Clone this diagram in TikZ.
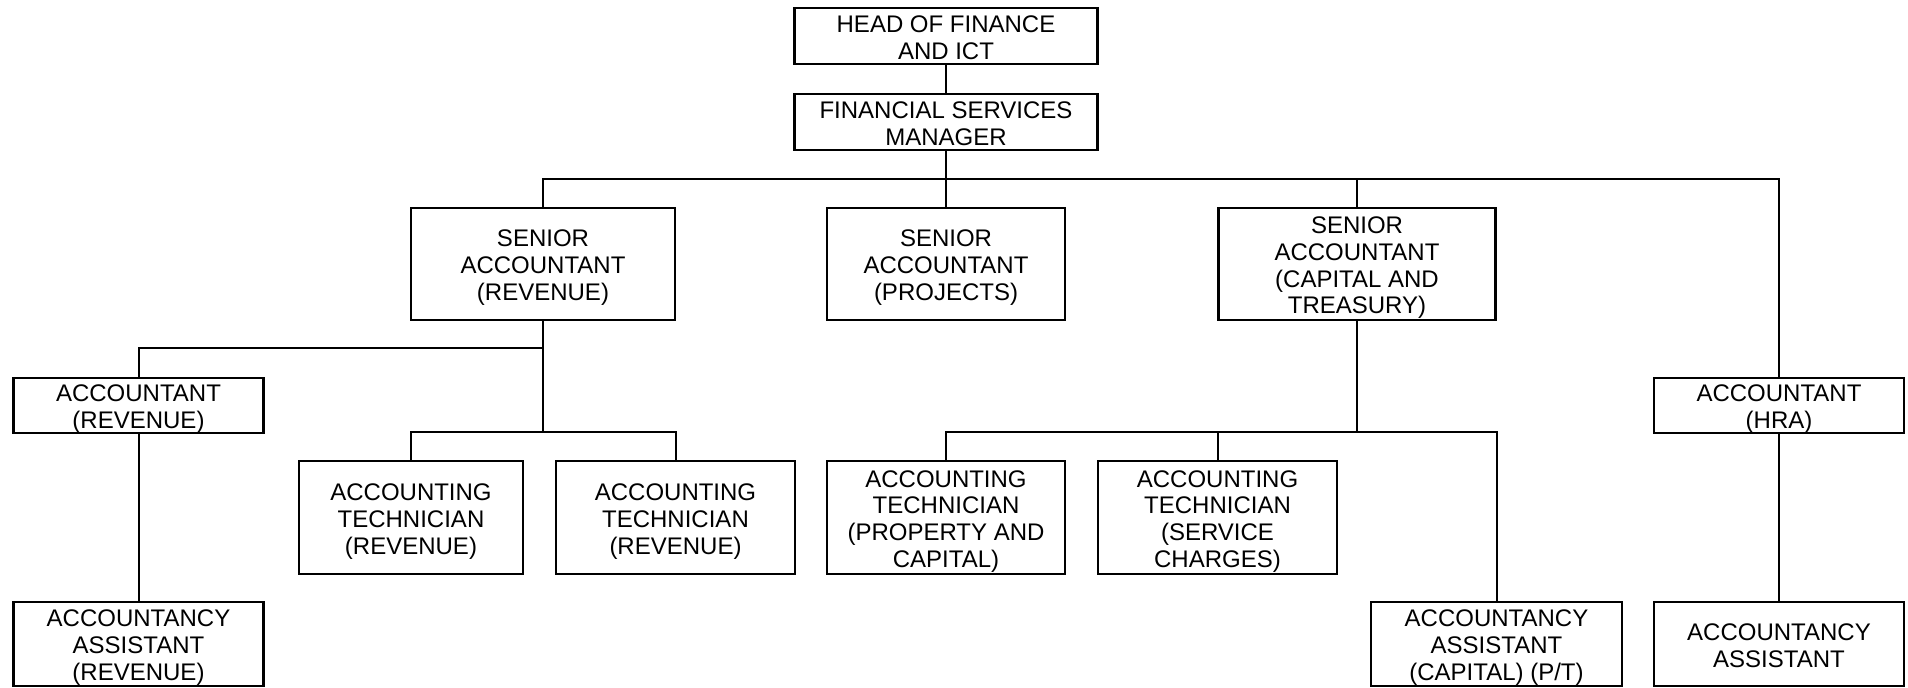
\documentclass[tikz,border=0pt]{standalone}
\usepackage{fontspec}
\setmainfont{Liberation Sans}
\newcommand\orgtext[1]{\begin{tabular}{@{}c@{}}#1\end{tabular}}
\begin{document}
\begin{tikzpicture}[x=0.5pt,y=-0.5pt,
  frame/.style={draw, line width=1.1pt, inner sep=0pt},
  txt/.style={inner sep=0pt, yshift=-2.2pt,
    font=\fontsize{12pt}{13.4pt}\selectfont},
  conn/.style={line width=1pt}]
\useasboundingbox (0,0) rectangle (1908,688);
% frames
\node[frame, minimum width=151.5pt, minimum height=28pt] (head) at (946,36) {};
\node[frame, minimum width=151.5pt, minimum height=28pt] (fsm) at (946,122) {};
\node[frame, minimum width=132pt, minimum height=56pt] (sarev) at (543,264) {};
\node[frame, minimum width=119pt, minimum height=56pt] (saproj) at (946,264) {};
\node[frame, minimum width=138.5pt, minimum height=56pt] (sacap) at (1357,264) {};
\node[frame, minimum width=125pt, minimum height=27.5pt] (acchra) at (1779,405.5) {};
\node[frame, minimum width=125pt, minimum height=27.5pt] (accrev) at (138.5,405.5) {};
\node[frame, minimum width=112pt, minimum height=56.5pt] (tr1) at (411,517.5) {};
\node[frame, minimum width=119.5pt, minimum height=56.5pt] (tr2) at (675.5,517.5) {};
\node[frame, minimum width=119pt, minimum height=56.5pt] (tp) at (946,517.5) {};
\node[frame, minimum width=119.5pt, minimum height=56.5pt] (ts) at (1217.5,517.5) {};
\node[frame, minimum width=125.5pt, minimum height=42pt] (aacap) at (1496.5,644) {};
\node[frame, minimum width=125pt, minimum height=42pt] (aahra) at (1779,644) {};
\node[frame, minimum width=125pt, minimum height=42pt] (aarev) at (138.5,644) {};
% texts
\node[txt] (headT) at (head.center) {\orgtext{HEAD OF FINANCE\\AND ICT}};
\node[txt] (fsmT) at (fsm.center) {\orgtext{FINANCIAL SERVICES\\MANAGER}};
\node[txt] (sarevT) at (sarev.center) {\orgtext{SENIOR\\ACCOUNTANT\\(REVENUE)}};
\node[txt] (saprojT) at (saproj.center) {\orgtext{SENIOR\\ACCOUNTANT\\(PROJECTS)}};
\node[txt] (sacapT) at (sacap.center) {\orgtext{SENIOR\\ACCOUNTANT\\(CAPITAL AND\\TREASURY)}};
\node[txt] (acchraT) at (acchra.center) {\orgtext{ACCOUNTANT\\(HRA)}};
\node[txt] (accrevT) at (accrev.center) {\orgtext{ACCOUNTANT\\(REVENUE)}};
\node[txt] (tr1T) at (tr1.center) {\orgtext{ACCOUNTING\\TECHNICIAN\\(REVENUE)}};
\node[txt] (tr2T) at (tr2.center) {\orgtext{ACCOUNTING\\TECHNICIAN\\(REVENUE)}};
\node[txt] (tpT) at (tp.center) {\orgtext{ACCOUNTING\\TECHNICIAN\\(PROPERTY AND\\CAPITAL)}};
\node[txt] (tsT) at (ts.center) {\orgtext{ACCOUNTING\\TECHNICIAN\\(SERVICE\\CHARGES)}};
\node[txt] (aacapT) at (aacap.center) {\orgtext{ACCOUNTANCY\\ASSISTANT\\(CAPITAL) (P/T)}};
\node[txt] (aahraT) at (aahra.center) {\orgtext{ACCOUNTANCY\\ASSISTANT}};
\node[txt] (aarevT) at (aarev.center) {\orgtext{ACCOUNTANCY\\ASSISTANT\\(REVENUE)}};
% bus levels
\coordinate (bus) at (0,179);
\coordinate (rbus) at (0,348);
\coordinate (tbus) at (0,432);
% connectors
\draw[conn] (head.south) -- (fsm.north);
\draw[conn] (fsm.south) -- (fsm.south |- bus);
\draw[conn] (sarev.north) |- (acchra.north |- bus) -- (acchra.north);
\draw[conn] (saproj.north) -- (saproj.north |- bus);
\draw[conn] (sacap.north) -- (sacap.north |- bus);
\draw[conn] (sarev.south) -- (sarev.south |- tbus);
\draw[conn] (accrev.north) |- (sarev.south |- rbus);
\draw[conn] (tr1.north) |- (tr2.north |- tbus) -- (tr2.north);
\draw[conn] (accrev.south) -- (aarev.north);
\draw[conn] (sacap.south) -- (sacap.south |- tbus);
\draw[conn] (tp.north) |- (aacap.north |- tbus) -- (aacap.north);
\draw[conn] (ts.north) -- (ts.north |- tbus);
\draw[conn] (acchra.south) -- (aahra.north);
\end{tikzpicture}
\end{document}
